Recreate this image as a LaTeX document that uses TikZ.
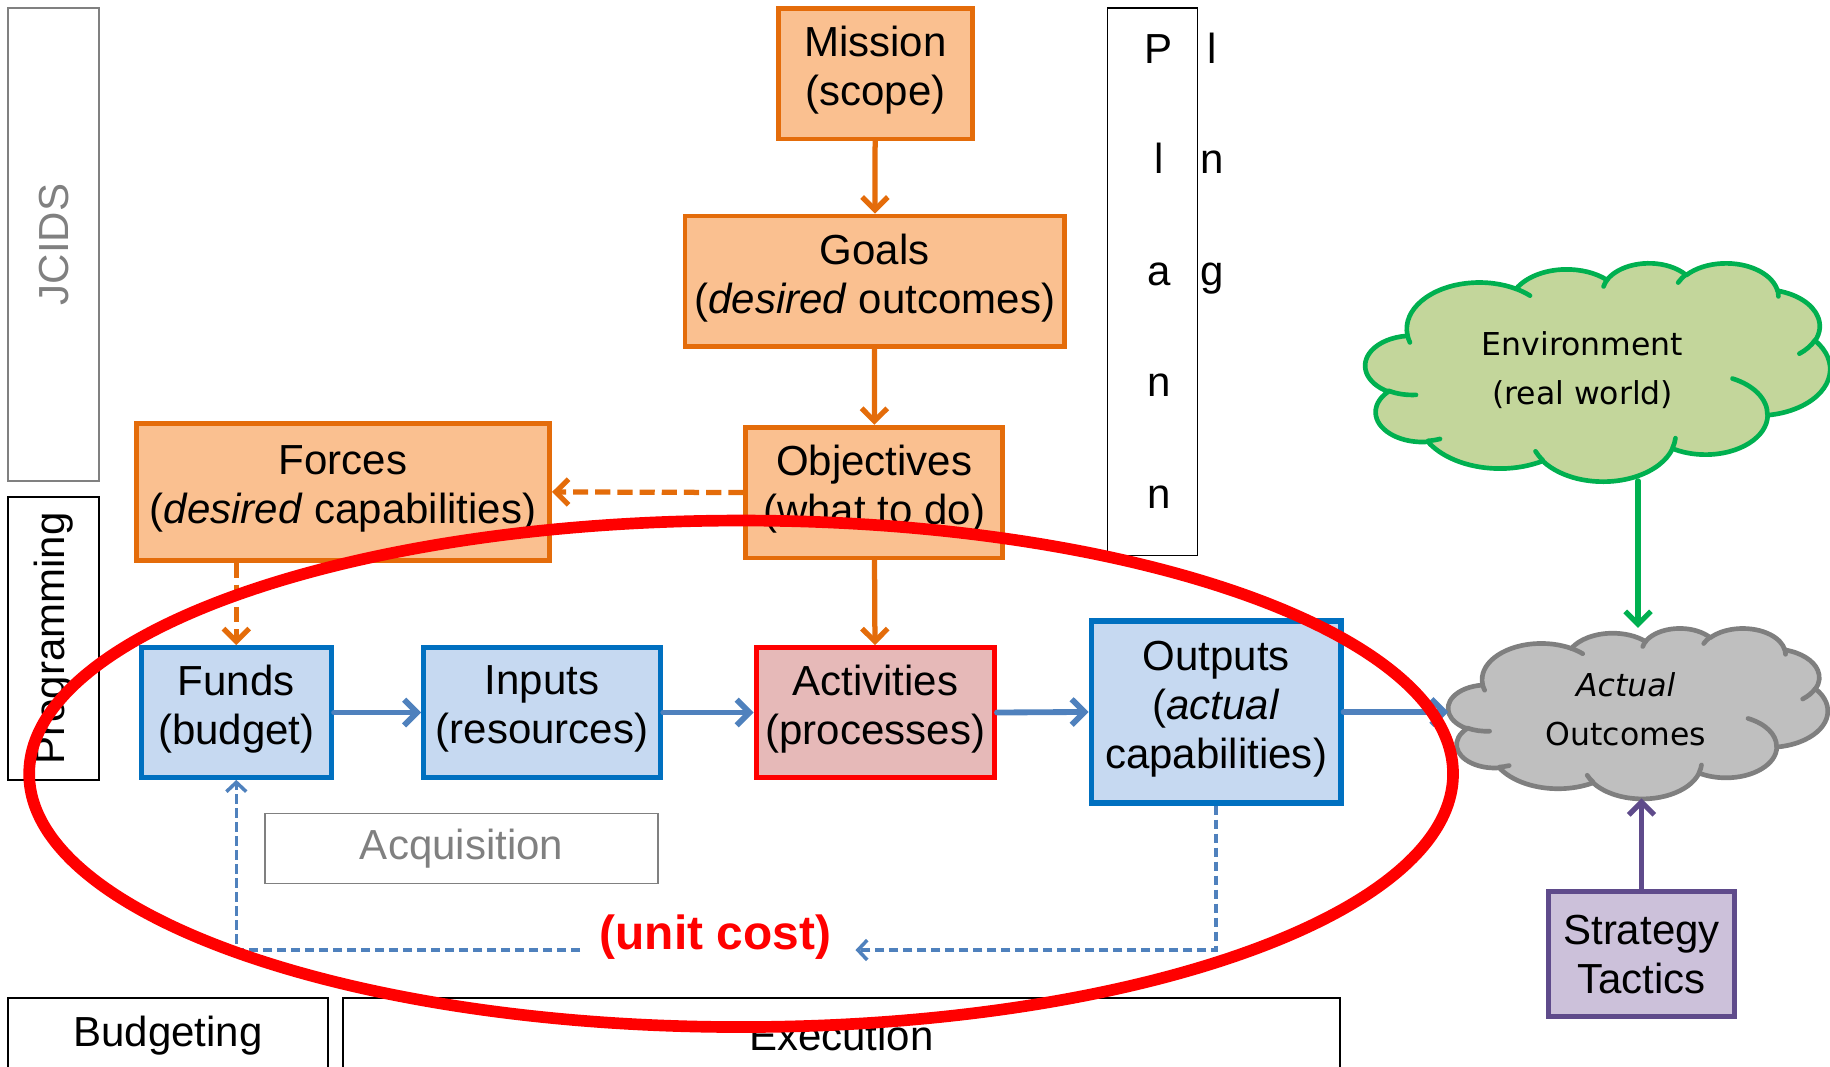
\documentclass[tikz,border=0pt]{standalone}
\usepackage{fontspec}
\setmainfont{Liberation Sans}
\newfontfamily\cloudfont{DejaVu Sans}
\usetikzlibrary{arrows.meta,calc}

\definecolor{orbd}{HTML}{E46C0A}
\definecolor{orfl}{HTML}{FAC090}
\definecolor{blbd}{HTML}{0070C0}
\definecolor{blfl}{HTML}{C6D9F1}
\definecolor{arblue}{HTML}{4F81BD}
\definecolor{rdbd}{HTML}{FF0000}
\definecolor{rdfl}{HTML}{E6B9B8}
\definecolor{grbd}{HTML}{00B050}
\definecolor{grfl}{HTML}{C3D69B}
\definecolor{gyfl}{HTML}{BFBFBF}
\definecolor{gybd}{HTML}{7F7F7F}
\definecolor{pubd}{HTML}{5F4B8B}
\definecolor{pufl}{HTML}{CCC1DA}
\definecolor{lbl}{HTML}{808080}

% elliptical arc given by radii, start direction and sweep (degrees, y down)
\newcommand\defarc[5]{%
  \pgfmathsetmacro\tmpA{atan2(sin(#4)/#3,cos(#4)/#2)}%
  \pgfmathsetmacro\tmpB{atan2(sin(#4+#5)/#3,cos(#4+#5)/#2)}%
  \pgfmathsetmacro\tmpD{mod(\tmpB-\tmpA+720,360)}%
  \expandafter\edef\csname cloudarc#1\endcsname{arc[start angle=\tmpA, delta angle=\tmpD, x radius=#2, y radius=#3]}%
}
% outline puffs
\defarc{a}{6.753}{9.190}{-190.487}{123.781}
\defarc{b}{5.333}{7.267}{-144.102}{89.945}
\defarc{c}{4.365}{5.945}{-145.808}{99.723}
\defarc{d}{4.857}{6.595}{-130.986}{117.242}
\defarc{e}{5.333}{7.273}{-78.709}{109.027}
\defarc{f}{6.775}{9.220}{-46.267}{130.269}
\defarc{g}{5.785}{7.867}{0.625}{114.033}
\defarc{h}{6.752}{9.215}{22.452}{115.173}
\defarc{i}{7.720}{10.543}{66.243}{75.711}
\defarc{j}{4.360}{5.918}{-274.942}{146.736}
\defarc{k}{4.345}{5.945}{-246.829}{152.519}
% inner creases
\defarc{A}{4.345}{5.945}{86.742}{26.430}
\defarc{B}{4.360}{5.918}{73.610}{11.447}
\defarc{C}{6.752}{9.215}{137.624}{14.081}
\defarc{D}{6.752}{9.215}{6.453}{15.998}
\defarc{E}{5.785}{7.867}{-70.292}{70.917}
\defarc{F}{5.333}{7.273}{30.318}{27.752}
\defarc{G}{4.857}{6.595}{-13.744}{14.859}
\defarc{H}{4.857}{6.595}{-149.181}{18.195}
\defarc{I}{4.365}{5.945}{-163.494}{17.686}
\defarc{J}{6.753}{9.190}{-66.707}{12.319}
\defarc{K}{6.753}{9.190}{157.654}{11.858}

% cloud in a 43.2 x 43.2 frame; #1 outline colour, #2 fill colour
\newcommand\cloudshape[2]{%
  \path[draw=#1, fill=#2, line width=4pt, line join=round]
    (3.900,14.370) \cloudarca \cloudarcb \cloudarcc \cloudarcd \cloudarce
    \cloudarcf \cloudarcg \cloudarch \cloudarci \cloudarcj \cloudarck -- cycle;
  \path[draw=#1, line width=4pt, line cap=round]
    (4.693,26.177) \cloudarcA (6.928,34.899) \cloudarcB
    (16.478,39.090) \cloudarcC (28.827,34.751) \cloudarcD
    (34.129,22.954) \cloudarcE (41.798,15.354) \cloudarcF
    (38.324,5.426) \cloudarcG (29.078,3.952) \cloudarcH
    (22.141,4.720) \cloudarcI (14.000,5.192) \cloudarcJ
    (4.127,15.789) \cloudarcK;
}

\tikzset{
  txt/.style={font=\fontsize{36}{42}\selectfont, align=center, inner sep=0pt},
  boxtxt/.style={txt, text depth=13pt},
  orangebox/.style={boxtxt, draw=orbd, fill=orfl, line width=4pt},
  bluebox/.style={boxtxt, draw=blbd, fill=blfl, line width=4.5pt},
  redbox/.style={boxtxt, draw=rdbd, fill=rdfl, line width=4.5pt},
  purplebox/.style={txt, draw=pubd, fill=pufl, line width=4pt},
  phasebox/.style={txt, draw=black, line width=1.5pt},
  barb/.style={-{Straight Barb[length=11pt,width=22pt]}, line cap=round},
  orangeflow/.style={barb, draw=orbd, line width=4.5pt},
  orangedash/.style={orangeflow, line cap=butt, dash pattern=on 13pt off 6pt},
  blueflow/.style={barb, draw=arblue, line width=5pt},
  bluedash/.style={-{Straight Barb[length=8pt,width=17pt]}, draw=arblue, line width=3pt, dash pattern=on 8pt off 4pt},
  cloudtxt/.style={font=\cloudfont\fontsize{27}{42}\selectfont, align=center, inner sep=0pt},
  anchorbox/.style={inner sep=0pt, outer sep=0pt},
  planletter/.style={font=\fontsize{36}{42}\selectfont, inner sep=0pt, anchor=base}
}

\begin{document}
\begin{tikzpicture}[x=1pt,y=-1pt]
\useasboundingbox (0,0) rectangle (1568,914);

% PPBE phase labels
\node[phasebox, draw=lbl, minimum width=78, minimum height=405] (jcids) at (46,209.5) {};
\node[txt, text=lbl, rotate=90] at (jcids) {JCIDS};
\node[phasebox, minimum width=78, minimum height=242] (prog) at (46,547) {};
\node[txt, rotate=90] at (prog) {Programming};
\node[phasebox, minimum width=77, minimum height=469] (plan) at (987.5,241.5) {};
\foreach \ch/\y in {P/54,l/149,a/245,n/340,n/436} \node[planletter] at (993,\y) {\ch};
\foreach \ch/\y in {l/54,n/149,g/245} \node[planletter] at (1039,\y) {\ch};
\draw[line width=2pt] (7,925) -- (7,855) -- (281,855) -- (281,925);
\node[txt] (budg) at (144,887) {Budgeting};
\draw[line width=2pt] (294,925) -- (294,855) -- (1148,855) -- (1148,925);
\node[txt] (exec) at (721,887) {Execution};
\node[phasebox, draw=lbl, text=lbl, minimum width=337, minimum height=60] (acq) at (395.5,727) {Acquisition};

% planning chain
\node[orangebox, minimum width=166, minimum height=112] (mission) at (750,63) {Mission\\(scope)};
\node[orangebox, minimum width=325, minimum height=112] (goals) at (749.5,241) {Goals\\(\textit{desired} outcomes)};
\node[orangebox, minimum width=220, minimum height=112] (obj) at (749,422) {Objectives\\(what to do)};
\node[orangebox, minimum width=354, minimum height=117] (forces) at (294,421.5) {Forces\\(\textit{desired} capabilities)};

% execution chain
\node[bluebox, minimum width=163, minimum height=111] (funds) at (202.5,610.5) {Funds\\(budget)};
\node[bluebox, minimum width=203, minimum height=111] (inputs) at (464.5,610.5) {Inputs\\(resources)};
\node[redbox, minimum width=204, minimum height=111] (activ) at (750,610.5) {Activities\\(processes)};
\node[bluebox, minimum width=214, minimum height=156] (outputs) at (1042,610) {Outputs\\(\textit{actual}\\capabilities)};

% outcome side
\begin{scope}[shift={(1170,225)}, x=9.213pt, y=-4.329pt]
  \cloudshape{grbd}{grfl}
\end{scope}
\node[anchorbox, minimum width=398, minimum height=187] (env) at (1369,318.5) {};
\node[cloudtxt] at (1356,317) {Environment\\(real world)};
\begin{scope}[shift={(1241,538)}, x=7.523pt, y=-3.380pt]
  \cloudshape{gybd}{gyfl}
\end{scope}
\node[anchorbox, minimum width=325, minimum height=146] (outc) at (1403.5,611) {};
\node[cloudtxt] at (1393,608) {\textit{Actual}\\Outcomes};
\node[purplebox, minimum width=159, minimum height=107] (strat) at (1406.5,817.5) {Strategy\\Tactics};

% connectors
\draw[orangeflow] (mission) -- (goals);
\draw[orangeflow] (goals) -- (obj);
\draw[orangeflow] (obj) -- (activ);
\draw[orangedash] (obj.west) -- (forces.east);
\draw[orangedash] (forces.south -| funds.north) -- (funds.north);
\draw[blueflow] (funds.east) -- (inputs.west);
\draw[blueflow] (inputs.east) -- (activ.west);
\draw[blueflow] (activ.east) -- (outputs.west);
\draw[blueflow] (outputs.east) -- (outputs.east -| outc.west);
\draw[barb, draw=grbd, line width=4.5pt] (env.south -| outc.north) -- (outc.north);
\draw[barb, draw=pubd, line width=4.5pt] (strat.north) -- (strat.north |- outc.south);

% unit cost feedback
\node[txt, text=rdbd, font=\bfseries\fontsize{41}{46}\selectfont] (uc) at (613,803) {(unit cost)};
\coordinate (ucR) at (733,814);
\coordinate (ucL) at (497,814);
\draw[bluedash] (outputs.south) |- (ucR);
\draw[bluedash] (ucL) -| (funds.south);

% highlight
\draw[rdbd, line width=10pt] (635,663) ellipse [x radius=610, y radius=217];
\end{tikzpicture}
\end{document}
